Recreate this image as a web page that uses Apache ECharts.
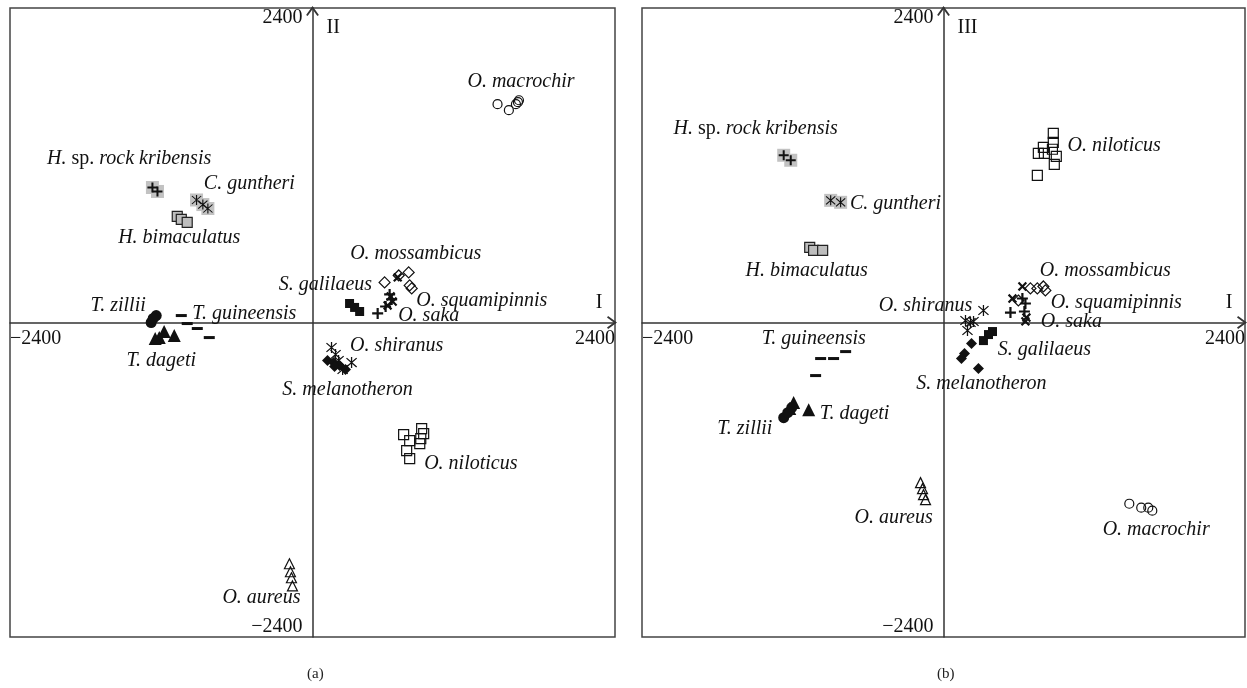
<!DOCTYPE html>
<html><head><meta charset="utf-8">
<script src="https://cdn.jsdelivr.net/npm/echarts@6/dist/echarts.min.js"></script>
<style>html,body{margin:0;padding:0;background:#fff}#c{width:1247px;height:688px}</style>
</head><body><div id="c"></div>
<script>
// ---------- Panel (a): axis I (x) vs axis II (y) ----------
const aMacrochir   = [[1468,1666],[1558,1620],[1614,1666],[1630,1681],[1638,1696]];
const aMossambicus = [[572,306],[684,359],[763,382],[771,283],[787,260]];
const aSquamipinnis= [[676,344],[620,199],[636,160],[596,130]];
const aSaka        = [[517,69],[580,122],[612,214],[628,176]];
const aGalilaeus   = [[294,145],[334,115],[374,84]];
const aShiranus    = [[151,-191],[183,-244],[310,-306],[239,-359],[207,-290]];
const aMelanotheron= [[119,-290],[167,-306],[215,-329],[262,-359],[175,-336]];
const aNiloticus   = [[723,-856],[771,-902],[866,-810],[882,-848],[851,-924],[747,-978],[771,-1039],[859,-886]];
const aAureus      = [[-183,-1841],[-175,-1902],[-167,-1948],[-159,-2010]];
const aKribensis   = [[-1270,1030],[-1230,1000]];
const aGuntheri    = [[-920,935],[-870,900],[-830,870]];
const aBimaculatus = [[-1073,810],[-1041,787],[-994,764]];
const aZillii      = [[-1240,53],[-1280,0],[-1264,31]];
const aDageti      = [[-1216,-115],[-1177,-69],[-1097,-99],[-1248,-122]];
const aGuineensis  = [[-1041,53],[-994,-8],[-914,-46],[-819,-115]];

// ---------- Panel (b): axis I (x) vs axis III (y) ----------
const bMacrochir   = [[1479,-1383],[1574,-1413],[1630,-1413],[1662,-1436]];
const bNiloticus   = [[874,1444],[874,1375],[795,1337],[755,1291],[803,1291],[867,1322],[898,1268],[882,1207],[747,1123]];
const bMossambicus = [[692,260],[747,260],[795,275],[811,245],[596,168]];
const bSquamipinnis= [[628,275],[549,183],[660,38],[652,8]];
const bSaka        = [[533,76],[652,145],[644,84],[628,183]];
const bShiranus    = [[318,92],[175,15],[215,0],[191,-61],[239,8]];
const bGalilaeus   = [[390,-69],[358,-92],[318,-138]];
const bMelanotheron= [[223,-160],[167,-237],[143,-275],[278,-351]];
const bAureus      = [[-183,-1222],[-167,-1268],[-159,-1314],[-143,-1352]];
const bKribensis   = [[-1272,1276],[-1216,1238]];
const bGuntheri    = [[-898,932],[-819,917]];
const bBimaculatus = [[-1065,573],[-1034,550],[-962,550]];
const bZillii      = [[-1272,-726],[-1240,-688],[-1208,-649]];
const bDageti      = [[-1193,-611],[-1073,-665],[-1224,-657]];
const bGuineensis  = [[-978,-275],[-875,-275],[-779,-222],[-1018,-405]];

// ---------- Species name annotations [text, x, y] ----------
const aLabels = [
  ['O. macrochir',1654,1834],['H. sp. rock kribensis',-1455,1253],['C. guntheri',-501,1062],
  ['H. bimaculatus',-1057,649],['O. mossambicus',819,527],['S. galilaeus',103,290],
  ['O. squamipinnis',1343,168],['O. saka',922,53],['T. zillii',-1542,130],
  ['T. guineensis',-541,69],['T. dageti',-1200,-290],['O. shiranus',668,-176],
  ['S. melanotheron',278,-512],['O. niloticus',1256,-1077],['O. aureus',-405,-2101]
];
const bLabels = [
  ['H. sp. rock kribensis',-1495,1482],['C. guntheri',-382,909],['H. bimaculatus',-1089,397],
  ['O. niloticus',1359,1352],['O. mossambicus',1288,397],['O. squamipinnis',1375,153],
  ['O. saka',1018,8],['O. shiranus',-143,130],['S. galilaeus',803,-206],
  ['S. melanotheron',302,-466],['T. guineensis',-1033,-122],['T. dageti',-708,-695],
  ['T. zillii',-1582,-810],['O. aureus',-397,-1490],['O. macrochir',1693,-1581]
];
const axisTicks = [-2400, 0, 2400];
const axisNames = [['I','II'],['I','III']];
const captions = ['(a)','(b)'];

// ---------- layout & styles ----------
const GRIDS = [{left:10, top:8, width:605, height:629}, {left:642, top:8, width:603, height:629}];
const FONT = '"Liberation Serif","Times New Roman",serif';
const INK = '#111';
const PLUS = 'path://M4,0H6V4H10V6H6V10H4V6H0V4H4Z';
const STAR = 'path://M9,0H11V20H9Z M2.7,1.3L18.7,17.3L17.3,18.7L1.3,2.7Z M17.3,1.3L18.7,2.7L2.7,18.7L1.3,17.3Z';
const CHEV = 'path://M0,8.4L6,0L12,8.4L10.6,9.4L6,3L1.4,9.4Z';
const open = (symbol, size) => ({symbol, symbolSize:size, itemStyle:{color:'rgba(0,0,0,0)', borderColor:INK, borderWidth:1.2, opacity:1}});
const fill = (symbol, size) => ({symbol, symbolSize:size, itemStyle:{color:INK, opacity:1}});
const ST = {
  macrochir: open('circle',9),
  mossambicus: open('diamond',11),
  niloticus: open('rect',10),
  aureus: open('triangle',10),
  squamipinnis: Object.assign(fill(PLUS,11),{symbolRotate:45}),
  saka: fill(PLUS,11),
  shiranus: fill(STAR,11),
  galilaeus: fill('rect',9),
  melanotheron: fill('diamond',11),
  zillii: fill('circle',11),
  dageti: fill('triangle',13),
  guineensis: fill('rect',[11,3]),
  grayBg: {symbol:'rect', symbolSize:13, itemStyle:{color:'#c2c2c2', opacity:1}},
  bimaculatus: {symbol:'rect', symbolSize:10, itemStyle:{color:'#bdbdbd', borderColor:'#222', borderWidth:1.2, opacity:1}},
  kribensis: fill(PLUS,10),
  guntheri: fill(STAR,10)
};

function ser(p, name, data, style, z){
  return Object.assign({type:'scatter', name, xAxisIndex:p, yAxisIndex:p, data, silent:true,
    emphasis:{disabled:true}, z: z||2}, JSON.parse(JSON.stringify(style)));
}
function panelSeries(p, d){
  return [
    ser(p,'H. sp. rock kribensis bg', d.kribensis, ST.grayBg, 1),
    ser(p,'C. guntheri bg', d.guntheri, ST.grayBg, 1),
    ser(p,'H. sp. rock kribensis', d.kribensis, ST.kribensis),
    ser(p,'C. guntheri', d.guntheri, ST.guntheri),
    ser(p,'H. bimaculatus', d.bimaculatus, ST.bimaculatus),
    ser(p,'O. macrochir', d.macrochir, ST.macrochir),
    ser(p,'O. mossambicus', d.mossambicus, ST.mossambicus),
    ser(p,'O. niloticus', d.niloticus, ST.niloticus),
    ser(p,'O. aureus', d.aureus, ST.aureus),
    ser(p,'O. squamipinnis', d.squamipinnis, ST.squamipinnis),
    ser(p,'O. saka', d.saka, ST.saka),
    ser(p,'O. shiranus', d.shiranus, ST.shiranus),
    ser(p,'S. galilaeus', d.galilaeus, ST.galilaeus),
    ser(p,'S. melanotheron', d.melanotheron, ST.melanotheron),
    ser(p,'T. zillii', d.zillii, ST.zillii),
    ser(p,'T. dageti', d.dageti, ST.dageti),
    ser(p,'T. guineensis', d.guineensis, ST.guineensis)
  ];
}
const LBL = 20;
function labelSeries(p, labels){
  return {
    type:'scatter', xAxisIndex:p, yAxisIndex:p, silent:true, z:5, emphasis:{disabled:true},
    symbol:'circle', symbolSize:1, itemStyle:{color:'rgba(0,0,0,0)', opacity:1},
    data: labels.map(l => ({name:l[0], value:[l[1], l[2]]})),
    label:{show:true, position:'inside', color:INK, opacity:1, fontFamily:FONT, fontSize:LBL, fontStyle:'italic',
      formatter: q => q.name.indexOf(' sp. ')>0 ? '{i|H.} {n|sp.} {i|rock kribensis}' : q.name,
      rich:{ i:{fontFamily:FONT, fontSize:LBL, fontStyle:'italic', color:INK},
             n:{fontFamily:FONT, fontSize:LBL, fontStyle:'normal', color:INK} } }
  };
}
const fmtTick = v => v === 0 ? '' : (v < 0 ? '\u2212' + Math.abs(v) : String(v));
function xAx(p){
  return {gridIndex:p, type:'value', min:axisTicks[0], max:axisTicks[2], interval:axisTicks[2],
    position:'bottom', offset:-GRIDS[p].height/2,
    axisLine:{onZero:false, lineStyle:{color:'#333', width:1.5}, symbol:['none', CHEV], symbolSize:[13,10], symbolOffset:[0,-3]},
    axisTick:{show:false}, splitLine:{show:false},
    axisLabel:{formatter:fmtTick, color:INK, fontFamily:FONT, fontSize:20, margin:6,
      alignMinLabel:'left', alignMaxLabel:'right'},
    name:axisNames[p][0], nameLocation:'end', nameGap:-16,
    nameTextStyle:{color:INK, fontFamily:FONT, fontSize:20, align:'center', verticalAlign:'bottom', padding:[0,0,10,0]}
  };
}
function yAx(p){
  return {gridIndex:p, type:'value', min:axisTicks[0], max:axisTicks[2], interval:axisTicks[2],
    position:'left', offset:-GRIDS[p].width/2,
    axisLine:{onZero:false, lineStyle:{color:'#333', width:1.5}, symbol:['none', CHEV], symbolSize:[13,10], symbolOffset:[0,-3]},
    axisTick:{show:false}, splitLine:{show:false},
    axisLabel:{formatter:fmtTick, color:INK, fontFamily:FONT, fontSize:20, margin:10,
      verticalAlignMinLabel:'bottom', verticalAlignMaxLabel:'top'},
    name:axisNames[p][1], nameLocation:'end', nameGap:-20,
    nameTextStyle:{color:INK, fontFamily:FONT, fontSize:20, align:'left', verticalAlign:'middle', padding:[0,0,0,14]}
  };
}

const dataA = {macrochir:aMacrochir, mossambicus:aMossambicus, squamipinnis:aSquamipinnis, saka:aSaka,
  galilaeus:aGalilaeus, shiranus:aShiranus, melanotheron:aMelanotheron, niloticus:aNiloticus, aureus:aAureus,
  kribensis:aKribensis, guntheri:aGuntheri, bimaculatus:aBimaculatus, zillii:aZillii, dageti:aDageti, guineensis:aGuineensis};
const dataB = {macrochir:bMacrochir, mossambicus:bMossambicus, squamipinnis:bSquamipinnis, saka:bSaka,
  galilaeus:bGalilaeus, shiranus:bShiranus, melanotheron:bMelanotheron, niloticus:bNiloticus, aureus:bAureus,
  kribensis:bKribensis, guntheri:bGuntheri, bimaculatus:bBimaculatus, zillii:bZillii, dageti:bDageti, guineensis:bGuineensis};

const option = {
  animation:false,
  backgroundColor:'#fff',
  title:[
    {text:captions[0], left:302, top:662, textStyle:{fontFamily:FONT, fontSize:15, fontWeight:'normal', color:'#222'}},
    {text:captions[1], left:932, top:662, textStyle:{fontFamily:FONT, fontSize:15, fontWeight:'normal', color:'#222'}}
  ],
  grid: GRIDS.map(g => Object.assign({show:true, borderColor:'#444', borderWidth:1.5,
    backgroundColor:'rgba(0,0,0,0)', containLabel:false, outerBoundsMode:'none'}, g)),
  xAxis:[xAx(0), xAx(1)],
  yAxis:[yAx(0), yAx(1)],
  series:[].concat(panelSeries(0,dataA), panelSeries(1,dataB), [labelSeries(0,aLabels), labelSeries(1,bLabels)])
};
const chart = echarts.init(document.getElementById('c'));
chart.setOption(option);
</script></body></html>
